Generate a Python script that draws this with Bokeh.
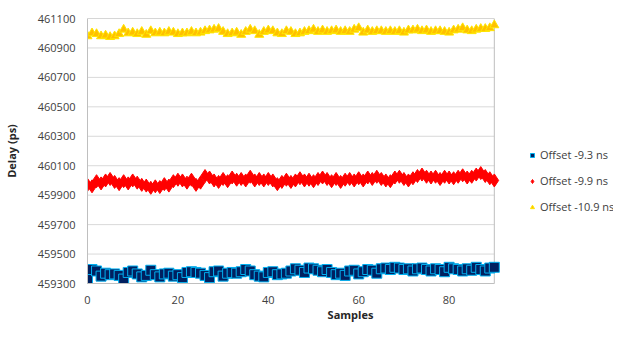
from bokeh.plotting import figure
from bokeh.models import Legend, LegendItem, FixedTicker, NumeralTickFormatter, Range1d
from bokeh.embed import file_html
from bokeh.resources import INLINE

samples = list(range(91))

offset_93 = [459330, 459395, 459385, 459350, 459370, 459360, 459365, 459355, 459330, 459375,
             459385, 459365, 459345, 459355, 459390, 459360, 459345, 459365, 459370, 459350,
             459360, 459340, 459375, 459380, 459375, 459370, 459355, 459340, 459380, 459385,
             459350, 459370, 459375, 459370, 459380, 459395, 459385, 459360, 459350, 459345,
             459375, 459380, 459360, 459365, 459370, 459385, 459400, 459390, 459375, 459405,
             459400, 459390, 459380, 459395, 459375, 459360, 459370, 459355, 459385, 459390,
             459365, 459380, 459395, 459390, 459370, 459400, 459405, 459395, 459410, 459405,
             459395, 459400, 459385, 459400, 459405, 459395, 459385, 459400, 459395, 459380,
             459410, 459400, 459395, 459385, 459400, 459390, 459410, 459395, 459385, 459405,
             459410]

offset_99 = [459970, 459960, 459995, 459980, 460000, 460010, 459990, 459975, 459995, 459980,
             460000, 459985, 459970, 459965, 459950, 459960, 459955, 459975, 459965, 459995,
             460005, 460000, 459985, 460005, 459970, 459985, 460030, 460020, 460000, 459990,
             460010, 459995, 460020, 460005, 460010, 460000, 460025, 460000, 460010, 460000,
             460010, 460000, 459975, 459990, 460005, 459990, 460000, 460015, 460000, 460005,
             459995, 460010, 460020, 460010, 459995, 460010, 459990, 460005, 460010, 460000,
             460015, 460000, 460020, 460010, 460025, 460010, 460000, 459995, 460020, 460025,
             460010, 460000, 460015, 460030, 460040, 460025, 460020, 460025, 460010, 460025,
             460020, 460015, 460025, 460035, 460020, 460025, 460040, 460050, 460030, 460015,
             460000]

offset_109 = [460980, 461000, 460995, 460980, 460985, 460975, 460980, 460995, 461025, 461000,
              461005, 460995, 461010, 460990, 461015, 461000, 461005, 461000, 461010, 461005,
              460995, 461000, 461000, 461010, 461000, 461005, 461015, 461020, 461025, 461030,
              461010, 460995, 461000, 461005, 460990, 461010, 461025, 461015, 460990, 461010,
              461020, 461015, 461000, 460995, 461015, 461010, 460995, 461000, 461010, 461015,
              461025, 461010, 461020, 461010, 461015, 461020, 461010, 461015, 461010, 461025,
              461035, 461005, 461020, 461010, 461015, 461015, 461010, 461015, 461010, 461015,
              461005, 461020, 461020, 461025, 461015, 461020, 461010, 461015, 461015, 461010,
              461005, 461020, 461025, 461035, 461020, 461015, 461025, 461030, 461030, 461035,
              461055]

x_ticks = [0, 20, 40, 60, 80]
y_ticks = [459300, 459500, 459700, 459900, 460100, 460300, 460500, 460700, 460900, 461100]
series_names = ["Offset -9.3 ns", "Offset -9.9 ns", "Offset -10.9 ns"]

FONT = "Open Sans"
X_MIN, X_MAX = 0, 90
Y_MIN, Y_MAX = 459300, 461100

W, H = 613, 324
LEFT, TOP, BOTTOM = 79, 18, 34
PLOT_W = 413  # pixel width of the data area (0..90)
frame_w = W - LEFT
x_end = X_MAX * frame_w / PLOT_W  # frame extended to host the legend

p = figure(width=W, height=H, output_backend="svg", toolbar_location=None,
           x_range=Range1d(X_MIN, x_end), y_range=Range1d(Y_MIN, Y_MAX),
           min_border_left=LEFT, min_border_right=0, min_border_top=TOP,
           min_border_bottom=BOTTOM)

p.outline_line_color = None
p.xgrid.grid_line_color = None
p.ygrid.grid_line_color = None

# horizontal gridlines limited to the data area
p.segment(x0=[X_MIN] * len(y_ticks), x1=[X_MAX] * len(y_ticks), y0=y_ticks, y1=y_ticks,
          line_color="#D9D9D9", line_width=1)
# plot-area border (top and right)
p.segment(x0=[X_MIN, X_MAX], x1=[X_MAX, X_MAX], y0=[Y_MAX, Y_MIN], y1=[Y_MAX, Y_MAX],
          line_color="#BFBFBF", line_width=1)

r1 = p.scatter(samples, offset_93, marker="square", size=10, fill_color="#002060",
               line_color="#00B0F0", line_width=1)
r2 = p.scatter(samples, offset_99, marker="diamond", size=13, fill_color="#FF0000",
               line_color="#FF0000", line_width=1)
r3 = p.scatter(samples, offset_109, marker="triangle", size=9, fill_color="#FFC000",
               line_color="#FFE600", line_width=1)

p.xaxis.ticker = FixedTicker(ticks=x_ticks)
p.yaxis.ticker = FixedTicker(ticks=y_ticks)
p.yaxis.formatter = NumeralTickFormatter(format="0")
p.xaxis.bounds = (X_MIN, X_MAX)

for ax in (p.xaxis, p.yaxis):
    ax.axis_line_color = "#BFBFBF"
    ax.major_tick_line_color = None
    ax.minor_tick_line_color = None
    ax.major_label_text_font = FONT
    ax.major_label_text_font_size = "11px"
    ax.major_label_text_color = "#404040"
    ax.axis_label_text_font = FONT
    ax.axis_label_text_font_size = "11px"
    ax.axis_label_text_font_style = "bold"
    ax.axis_label_text_color = "#262626"

p.xaxis.axis_label = "Samples"
p.yaxis.axis_label = "Delay (ps)"
p.xaxis.major_label_standoff = 6
p.xaxis.axis_label_standoff = 0
p.yaxis.major_label_standoff = 6
p.yaxis.axis_label_standoff = 16

legend = Legend(items=[LegendItem(label=series_names[0], renderers=[r1]),
                       LegendItem(label=series_names[1], renderers=[r2]),
                       LegendItem(label=series_names[2], renderers=[r3])],
                location=(440, 69), orientation="vertical",
                label_text_font=FONT, label_text_font_size="11px",
                label_text_color="#404040", glyph_width=10, glyph_height=10,
                label_standoff=3, spacing=11, padding=0, margin=0,
                border_line_color=None, background_fill_alpha=0)
p.add_layout(legend, "center")

open("out.html", "w").write(file_html(p, INLINE))
